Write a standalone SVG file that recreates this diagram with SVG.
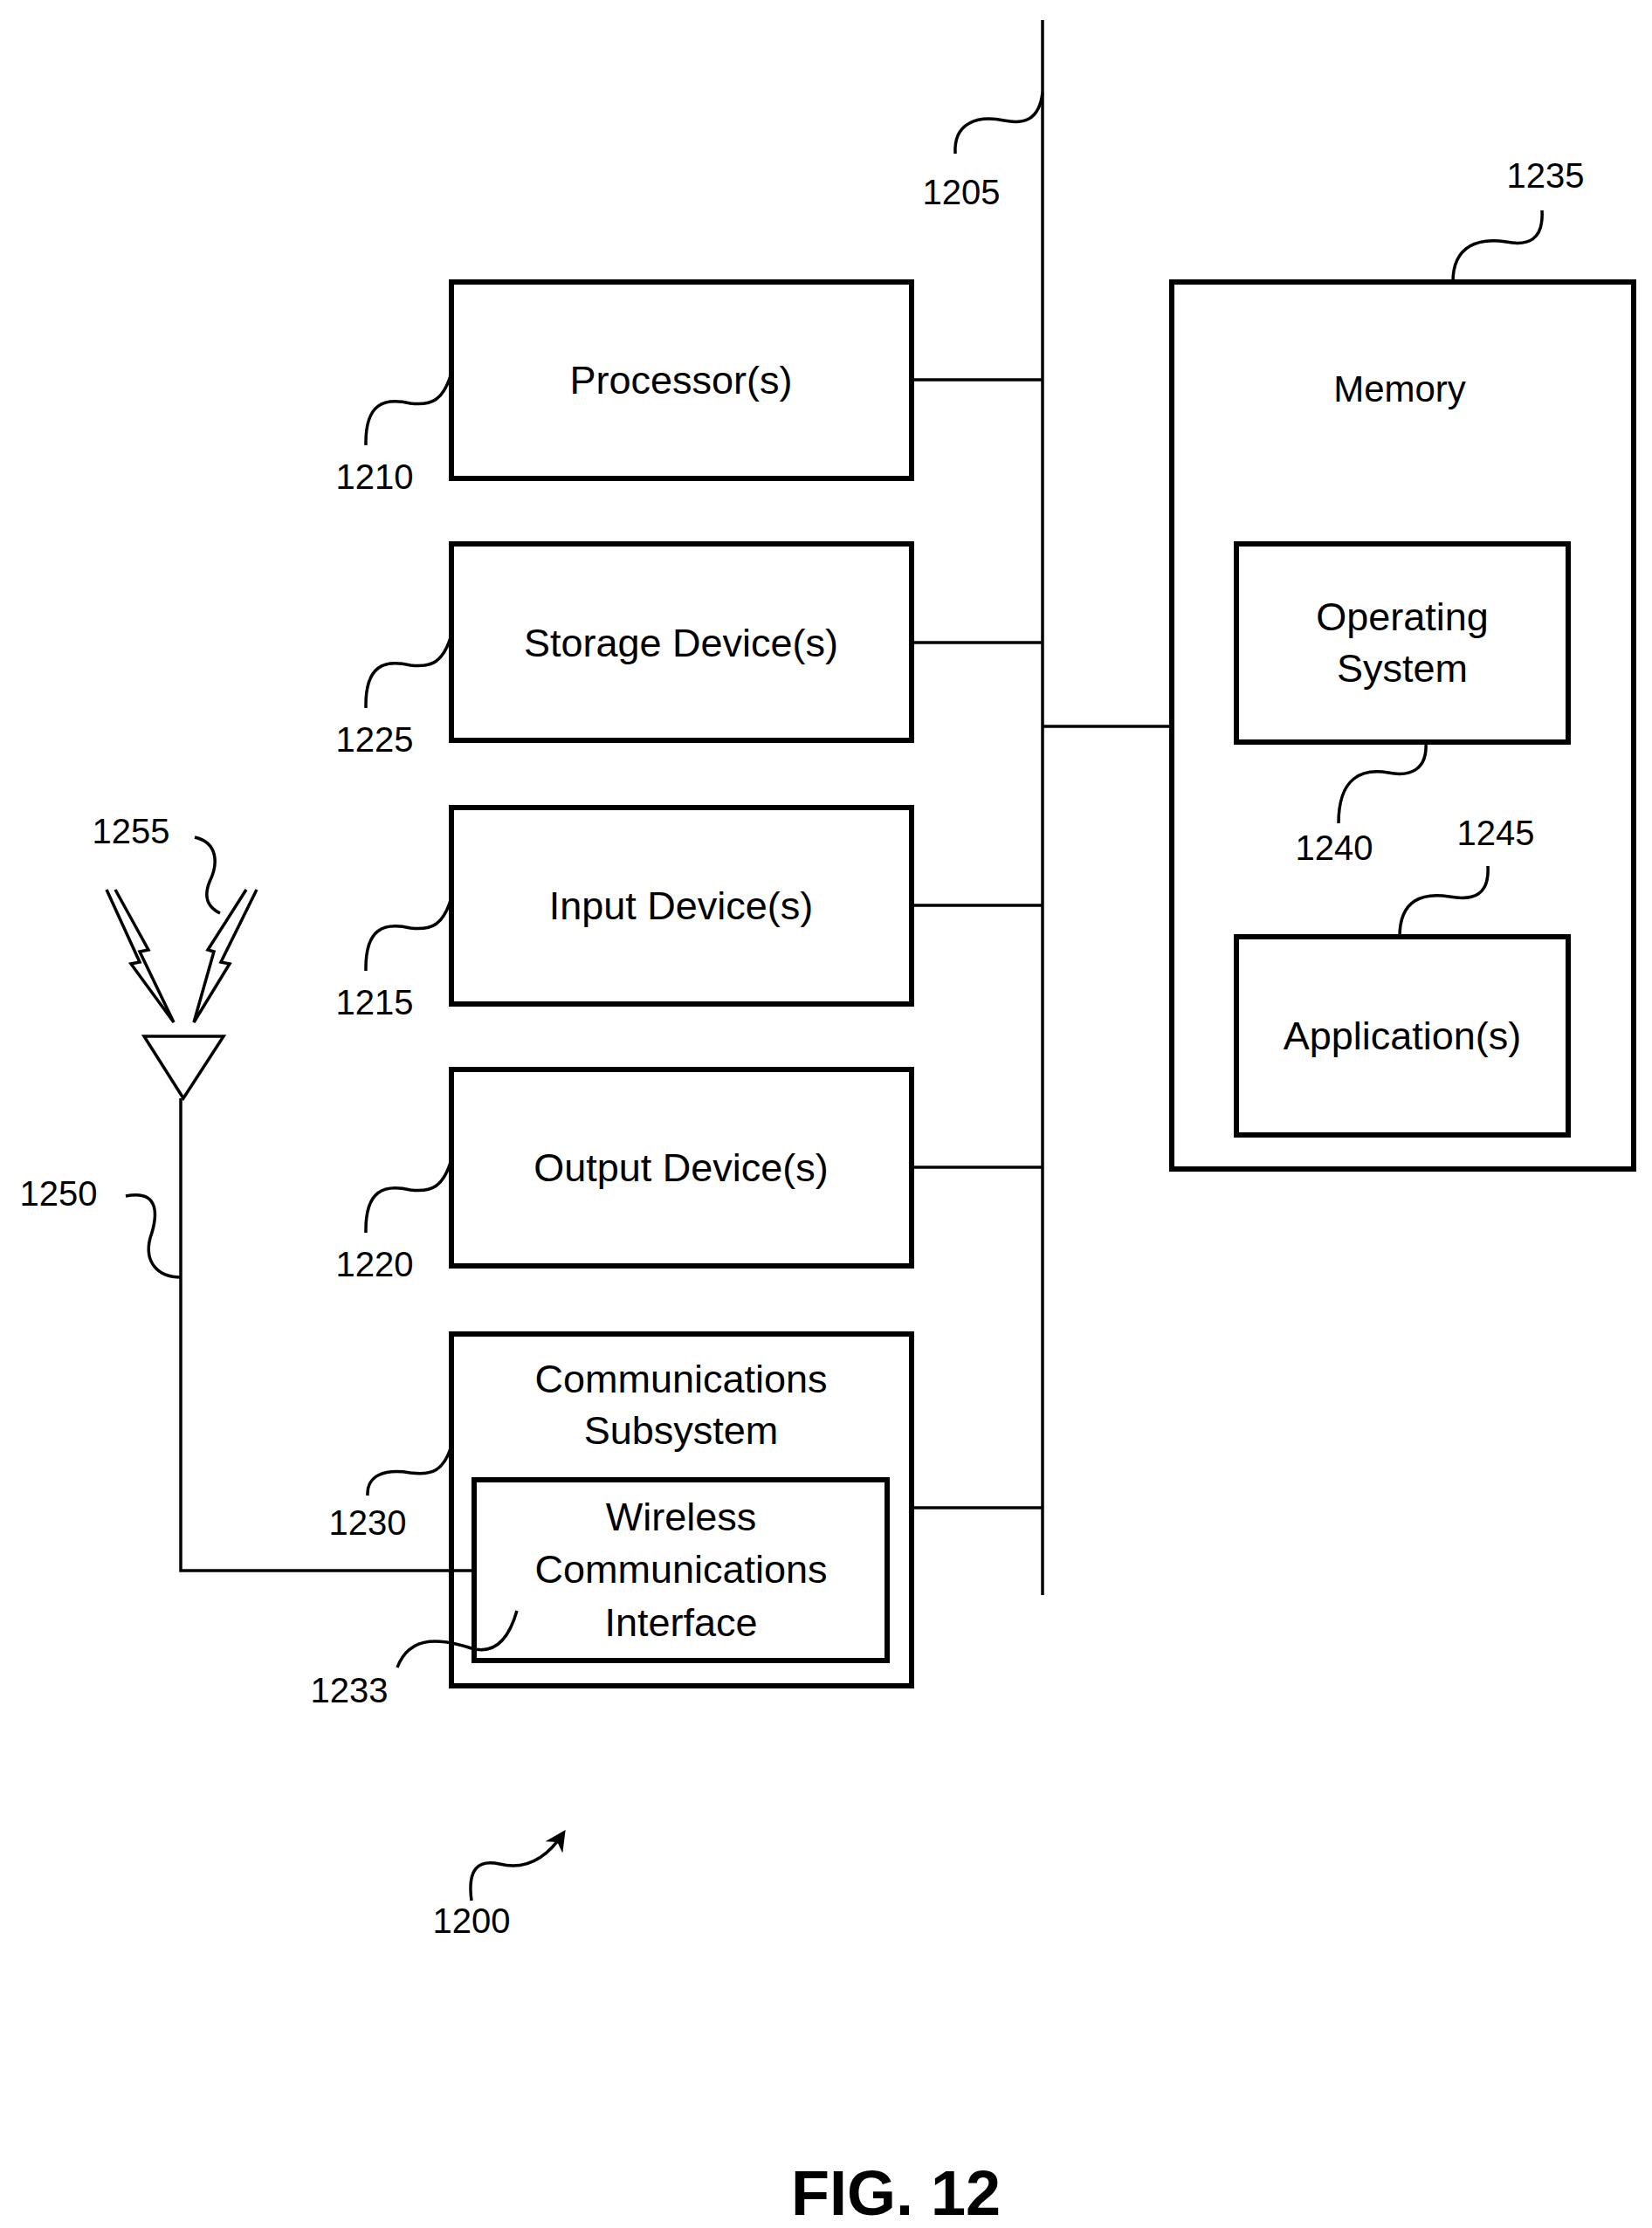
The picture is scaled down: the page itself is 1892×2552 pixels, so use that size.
<svg xmlns="http://www.w3.org/2000/svg" width="1892" height="2552" viewBox="0 0 1892 2552">
<style>
.box{fill:none;stroke:#000;stroke-width:6}
.ln{fill:none;stroke:#000;stroke-width:3.5}
.t{font-family:"Liberation Sans",Arial,sans-serif;font-size:45px;text-anchor:middle;dominant-baseline:central}
.n{font-family:"Liberation Sans",Arial,sans-serif;font-size:40px;text-anchor:middle;dominant-baseline:central}
</style>
<defs><marker id="ah" markerWidth="10" markerHeight="10" refX="5" refY="5" orient="auto" markerUnits="userSpaceOnUse" viewBox="0 0 10 10"><path d="M0,0 L10,5 L0,10 z" fill="#000"/></marker>
<marker id="ah2" viewBox="0 0 10 10" refX="8" refY="5" markerWidth="24" markerHeight="24" markerUnits="userSpaceOnUse" orient="auto"><path d="M0,0 L10,5 L0,10 L3,5 z" fill="#000"/></marker></defs>
<g id="connectors">
<line class="ln" x1="1194" y1="23" x2="1194" y2="1827"/>
<line class="ln" x1="1044" y1="435" x2="1194" y2="435"/>
<line class="ln" x1="1044" y1="736" x2="1194" y2="736"/>
<line class="ln" x1="1044" y1="1037" x2="1194" y2="1037"/>
<line class="ln" x1="1044" y1="1337" x2="1194" y2="1337"/>
<line class="ln" x1="1044" y1="1727" x2="1194" y2="1727"/>
<line class="ln" x1="1194" y1="832" x2="1342" y2="832"/>
<polyline class="ln" points="207,1258 207,1799 543,1799"/>
</g>
<g id="bus-1205"><path class="ln" d="M1194,106 C1190,140 1170,142 1150,138 C1120,132 1092,140 1094,176"/><text class="n" x="1101" y="220">1205</text></g>
<g id="processor"><rect class="box" x="517" y="323" width="527" height="225"/><text class="t" x="780" y="435">Processor(s)</text>
<path class="ln" d="M517,427 C508,458 495,465 470,462 C440,455 418,462 419,510"/><text class="n" x="429" y="546">1210</text></g>
<g id="storage"><rect class="box" x="517" y="623" width="527" height="225"/><text class="t" x="780" y="736">Storage Device(s)</text>
<path class="ln" d="M517,727 C508,758 495,765 470,762 C440,755 418,762 419,811"/><text class="n" x="429" y="847">1225</text></g>
<g id="input"><rect class="box" x="517" y="925" width="527" height="225"/><text class="t" x="780" y="1037">Input Device(s)</text>
<path class="ln" d="M517,1028 C508,1059 495,1066 470,1063 C440,1056 418,1063 419,1112"/><text class="n" x="429" y="1148">1215</text></g>
<g id="output"><rect class="box" x="517" y="1225" width="527" height="225"/><text class="t" x="780" y="1337">Output Device(s)</text>
<path class="ln" d="M517,1328 C508,1359 495,1366 470,1363 C440,1356 418,1363 419,1412"/><text class="n" x="429" y="1448">1220</text></g>
<g id="comms"><rect class="box" x="517" y="1528" width="527" height="403"/><text class="t" x="780" y="1579">Communications</text><text class="t" x="780" y="1638">Subsystem</text>
<path class="ln" d="M517,1656 C508,1685 495,1690 470,1687 C440,1682 420,1690 421,1713"/><text class="n" x="421" y="1744">1230</text></g>
<g id="wireless"><rect class="box" x="543" y="1695" width="473" height="207"/><text class="t" x="780" y="1737">Wireless</text><text class="t" x="780" y="1797">Communications</text><text class="t" x="780" y="1858">Interface</text>
<path class="ln" d="M592,1845 C582,1880 565,1895 540,1888 C510,1878 470,1870 455,1910"/><text class="n" x="400" y="1936">1233</text></g>
<g id="memory"><rect class="box" x="1342" y="323" width="529" height="1016"/><text class="t" x="1603" y="445" style="font-size:42px">Memory</text>
<path class="ln" d="M1766,241 C1768,275 1750,282 1725,277 C1695,272 1664,280 1664,323"/><text class="n" x="1770" y="201">1235</text></g>
<g id="os"><rect class="box" x="1416" y="623" width="380" height="227"/><text class="t" x="1606" y="706">Operating</text><text class="t" x="1606" y="765">System</text>
<path class="ln" d="M1633,850 C1635,882 1615,890 1590,885 C1560,880 1533,890 1533,943"/><text class="n" x="1528" y="971">1240</text></g>
<g id="app"><rect class="box" x="1416" y="1073" width="380" height="227"/><text class="t" x="1606" y="1186">Application(s)</text>
<path class="ln" d="M1704,992 C1706,1025 1688,1032 1660,1027 C1630,1022 1603,1030 1603,1073"/><text class="n" x="1713" y="954">1245</text></g>
<g id="antenna"><polygon class="ln" points="165,1187 256,1187 210,1258"/>
<polyline class="ln" points="122,1019 160,1102 150,1104 199,1171 160,1090 170,1088 132,1019"/>
<polyline class="ln" points="294,1019 253,1102 263,1104 222,1171 245,1090 238,1088 282,1019"/>
<path class="ln" d="M223,959 C250,965 250,990 240,1010 C232,1030 240,1040 252,1046"/><text class="n" x="150" y="952">1255</text>
<path class="ln" d="M144,1370 C185,1362 180,1395 172,1418 C165,1445 180,1463 207,1463"/><text class="n" x="67" y="1367">1250</text></g>
<g id="ref-1200"><path class="ln" d="M540,2177 C535,2140 548,2130 572,2135 C600,2142 625,2130 645,2100" marker-end="url(#ah2)"/><text class="n" x="540" y="2200">1200</text></g>
<text x="1026" y="2512" style="font-family:'Liberation Sans',Arial,sans-serif;font-weight:bold;font-size:72px;text-anchor:middle;dominant-baseline:central">FIG. 12</text>
</svg>
